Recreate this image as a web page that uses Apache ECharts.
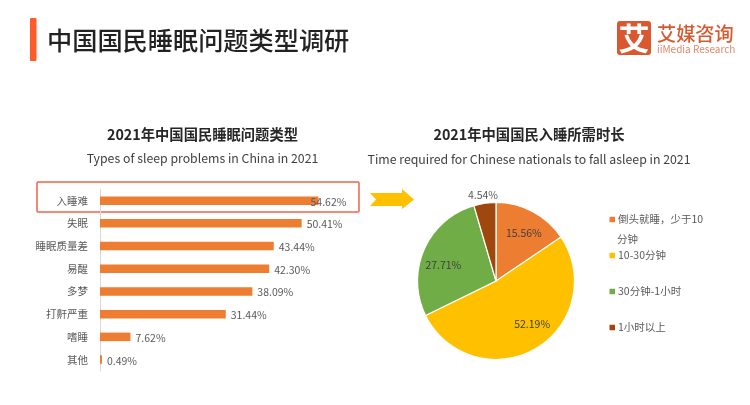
<!DOCTYPE html>
<html><head><meta charset="utf-8">
<style>html,body{margin:0;padding:0;background:#fff}#c{width:750px;height:405px;filter:blur(0.35px)}</style>
<script src="https://cdn.jsdelivr.net/npm/echarts@6/dist/echarts.min.js"></script>
</head><body><div id="c"></div>
<script>
const FONT = '"Noto Sans CJK SC","Noto Sans",sans-serif';
const problemCategories = ['入睡难','失眠','睡眠质量差','易醒','多梦','打鼾严重','嗜睡','其他'];
const problemValues = [54.62,50.41,43.44,42.30,38.09,31.44,7.62,0.49];
const durationNames = ['倒头就睡\uFF0C少于10分钟','10-30分钟','30分钟-1小时','1小时以上'];
const durationValues = [15.56,52.19,27.71,4.54];
const durationColors = ['#ed7d31','#ffc000','#70ad47','#9e480e'];

const chart = echarts.init(document.getElementById('c'));
const txt = (x,y,text,size,fill,weight,align) => ({type:'text',x,y,style:{text,font:`${weight||'normal'} ${size}px ${FONT}`,fill,align:align||'center',verticalAlign:'middle'}});
const pieLabelOffsets = [[8,-11],[15,6],[-14,1],[-7,-44]];
chart.setOption({
  animation:false,
  backgroundColor:'#fff',
  textStyle:{fontFamily:FONT},
  grid:{left:100,top:189.3,width:300,height:181.6,containLabel:false},
  xAxis:{type:'value',min:0,max:75,show:false},
  yAxis:{type:'category',inverse:true,data:problemCategories,
    axisTick:{show:false},
    axisLine:{lineStyle:{color:'#d9d9d9',width:1}},
    axisLabel:{color:'#595959',fontSize:10.5,margin:12}},
  legend:{orient:'vertical',left:607.5,top:212.5,padding:0,itemWidth:7.5,itemHeight:7.5,itemGap:22,icon:'rect',
    data:durationNames,
    formatter:n=>n===durationNames[0]?n.slice(0,n.length-2):n,
    textStyle:{color:'#595959',fontSize:10.5,padding:[0,0,0,-3],lineHeight:14}},
  series:[
    {type:'bar',barWidth:8.5,
     data:problemValues.map((v,i)=>i===0?{value:v,label:{offset:[-13,1]}}:v),
     itemStyle:{color:'#ed7d31'},
     label:{show:true,position:'right',distance:5,offset:[0,1],color:'#595959',fontSize:10.5,formatter:p=>p.value.toFixed(2)+'%'}},
    {type:'pie',center:[496,281],radius:[0,78.5],startAngle:90,clockwise:true,
     data:durationNames.map((n,i)=>({name:n,value:durationValues[i],
       itemStyle:{color:durationColors[i]},
       label:{position:'inner',offset:pieLabelOffsets[i],color:i===3?'#595959':'#404040'},
       labelLine:{show:false}})),
     itemStyle:{borderColor:'#fff',borderWidth:1.2},
     label:{fontSize:10.5,formatter:p=>p.value.toFixed(2)+'%'},
     emphasis:{disabled:true}}
  ],
  graphic:{elements:[
    {type:'rect',shape:{x:30,y:18,width:6.5,height:43,r:1},style:{fill:'#ff5c2b'}},
    txt(47,40,'中国国民睡眠问题类型调研',25.2,'#222222','500','left'),
    txt(202.5,135,'2021年中国国民睡眠问题类型',14.3,'#262626','bold'),
    txt(202.5,158,'Types of sleep problems in China in 2021',12.3,'#404040'),
    txt(529,135,'2021年中国国民入睡所需时长',14.3,'#262626','bold'),
    txt(529,159,'Time required for Chinese nationals to fall asleep in 2021',12.3,'#404040'),
    {type:'rect',shape:{x:617,y:21,width:34,height:34,r:3},style:{fill:'#d9582f'}},
    txt(634,38,'艾',31,'#ffffff','bold'),
    txt(657,34,'艾媒咨询',19.2,'#d9582f','500','left'),
    txt(657,49,'iiMedia Research',10,'#e08a6c','normal','left'),
    {type:'rect',shape:{x:37,y:182,width:322,height:30,r:1},style:{fill:'none',stroke:'#f0634a',lineWidth:1.5}},
    {type:'polygon',shape:{points:[[370,193],[402,193],[402,189],[414,199.5],[402,209],[402,206],[370,206],[376,199.5]]},style:{fill:'#ffc000'}},
    txt(617,239,'分钟',10.5,'#595959','normal','left')
  ]}
});
</script></body></html>
